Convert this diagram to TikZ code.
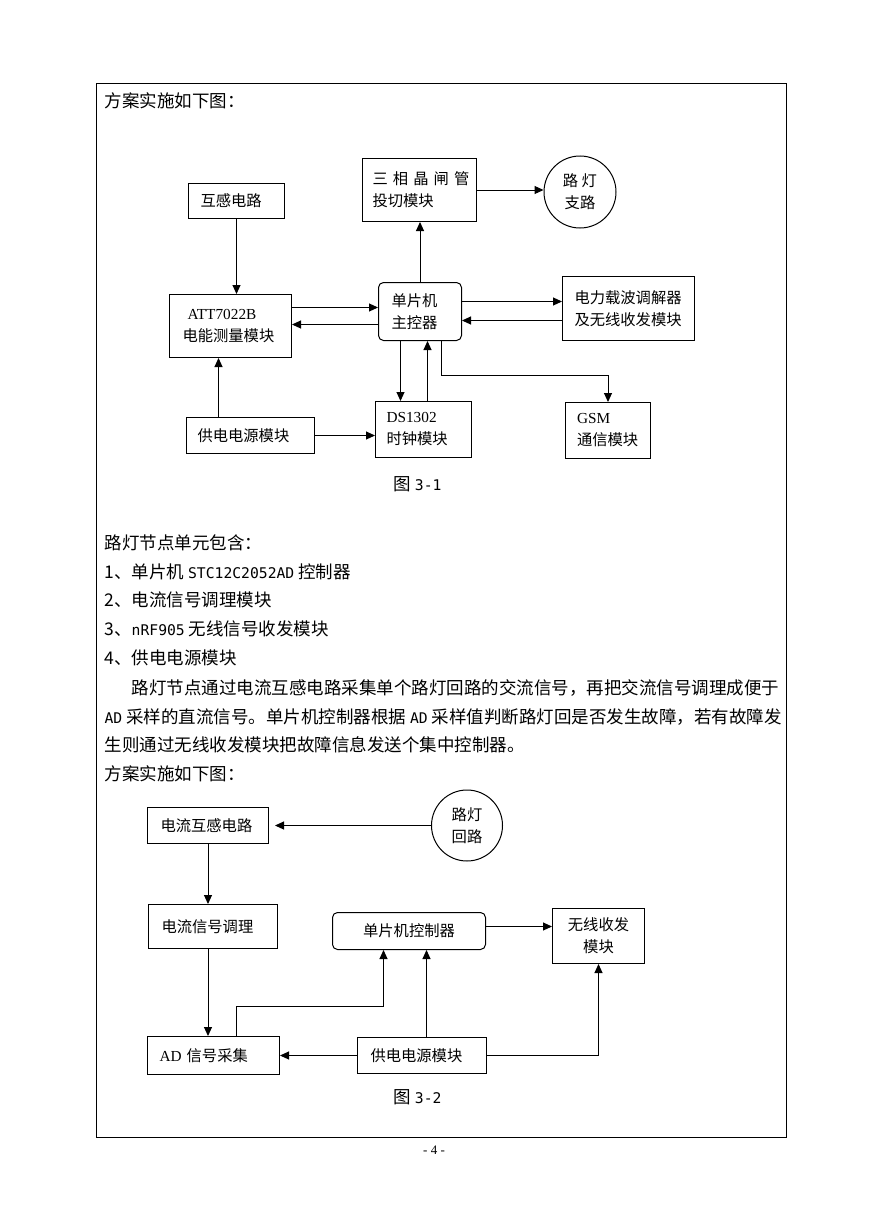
\documentclass[tikz,border=0pt]{standalone}
\usepackage{fontspec}
\setmainfont{Noto Sans CJK SC}
\newfontfamily\tms{Liberation Serif}
\newfontfamily\hw[Scale=0.84]{DejaVu Sans Mono}
\usetikzlibrary{arrows.meta,positioning}
\newcommand\dgfont{\fontsize{15.3}{22}\selectfont}
\newcommand\bdfont{\fontsize{17.5}{29}\selectfont}

\begin{document}
\begin{tikzpicture}[x=1pt, y=-1pt, line width=1pt, >={Triangle[length=9pt,width=8pt]},
    bb/.style={draw, align=left, inner ysep=0pt, anchor=north west, font=\dgfont},
    rr/.style={bb, rounded corners=5pt},
    cc/.style={draw, circle, inner sep=0pt, align=center, font=\dgfont},
    tt/.style={anchor=west, inner sep=0pt, font=\bdfont}]
            \fill[white] (0,0) rectangle (869,1228);
            \useasboundingbox (0,0) rectangle (869,1228);
            \draw (96,84) rectangle (786,1137);
            \node[tt] (p1) at (104,101) {方案实施如下图：};
            \node[bb, text width=72pt, inner xsep=12pt, minimum height=35pt] (hg) at (188,183) {互感电路};
            \node[bb, text width=96pt, inner xsep=13pt, minimum height=63pt] (att) at (169,294) {\hspace*{5pt}{\tms ATT7022B}\\电能测量模块};
            \node[bb, text width=94pt, inner xsep=10pt, minimum height=63pt] (sx) at (362,158) {三~相~晶~闸~管\\投切模块};
            \node[cc, minimum size=72pt] (ld) at (580,192) {路~灯\\支路};
            \node[rr, text width=57pt, inner xsep=13pt, minimum height=58pt] (mcu) at (378,282) {单片机\\主控器};
            \node[bb, text width=108pt, inner xsep=12pt, minimum height=64pt] (dl) at (562,276) {电力载波调解器\\及无线收发模块};
            \node[bb, text width=74pt, inner xsep=11pt, minimum height=56pt] (ds) at (375,401) {{\tms DS1302}\\时钟模块};
            \node[bb, text width=62pt, inner xsep=11.5pt, minimum height=56pt] (gsm) at (565,402) {{\tms GSM}\\通信模块};
            \node[bb, text width=106pt, inner xsep=11pt, minimum height=36pt] (gd) at (186,417) {供电电源模块};
            \node[tt] (c1) at (393,484) {图 {\hw 3-1}};
            \node[tt] (l0) at (104,543) {路灯节点单元包含：};
            \node[tt] (l1) at (104,572) {1、单片机 {\hw STC12C2052AD} 控制器};
            \node[tt] (l2) at (104,600) {2、电流信号调理模块};
            \node[tt] (l3) at (104,629) {3、{\hw nRF905} 无线信号收发模块};
            \node[tt] (l4) at (104,658) {4、供电电源模块};
            \node[tt] (q1) at (131,688) {路灯节点通过电流互感电路采集单个路灯回路的交流信号，再把交流信号调理成便于};
            \node[tt] (q2) at (104,717) {{\hw AD} 采样的直流信号。单片机控制器根据 {\hw AD} 采样值判断路灯回是否发生故障，若有故障发};
            \node[tt] (q3) at (104,745) {生则通过无线收发模块把故障信息发送个集中控制器。};
            \node[tt] (p2) at (104,774) {方案实施如下图：};
            \node[bb, text width=95pt, inner xsep=13pt, minimum height=36pt] (ct) at (147,807) {电流互感电路};
            \node[cc, minimum size=71pt] (lh) at (467,825.5) {路灯\\回路};
            \node[bb, text width=103pt, inner xsep=13pt, minimum height=44pt] (tj) at (148,904) {电流信号调理};
            \node[rr, align=center, minimum width=153pt, minimum height=37pt] (mcu2) at (332,912) {单片机控制器};
            \node[bb, align=center, minimum width=92pt, minimum height=55pt] (wx) at (552,908) {无线收发\\模块};
            \node[bb, text width=108pt, inner xsep=12pt, minimum height=38pt] (ad) at (147,1036) {{\tms AD} 信号采集};
            \node[bb, text width=103pt, inner xsep=13pt, minimum height=36pt] (gd2) at (357,1037) {供电电源模块};
            \node[tt] (c2) at (393,1097) {图 {\hw 3-2}};
            \node[inner sep=0pt, font=\tms\fontsize{13}{13}\selectfont] (pg) at (434,1150) {- 4 -};
            \draw[->] (hg.south) -- (hg.south |- att.north);
            \draw[->] ([yshift=18.5pt]att.east) -- ([yshift=4pt]mcu.west);
            \draw[->] ([yshift=-13pt]mcu.west) -- ([yshift=1.5pt]att.east);
            \draw[->] (mcu.north) -- (mcu.north |- sx.south);
            \draw[->] (sx.east) -- (sx.east -| ld.west);
            \draw[->] ([yshift=10pt]mcu.east) -- ([yshift=7pt]dl.west);
            \draw[->] ([yshift=-12pt]dl.west) -- ([yshift=-9pt]mcu.east);
            \draw[->] ([xshift=-19.5pt]mcu.south) -- ([xshift=-23pt]ds.north);
            \draw[->] ([xshift=4pt]ds.north) -- ([xshift=7.5pt]mcu.south);
            \draw[->] ([xshift=21.5pt]mcu.south) -- ++(0,34) -| (gsm.north);
            \draw[->] ([xshift=-32pt]gd.north) -- ([xshift=-12pt]att.south);
            \draw[->] (gd.east) -- (gd.east -| ds.west);
            \draw[->,shorten >=6pt] (lh.west) -- (lh.west -| ct.east);
            \draw[->] (ct.south) -- (ct.south |- tj.north);
            \draw[->] (ct.south |- tj.south) -- (ct.south |- ad.north);
            \draw[->] ([xshift=23pt]ad.north) -- ++(0,-30) -| ([xshift=-25.5pt]mcu2.south);
            \draw[->] ([xshift=4.5pt]gd2.north) -- ([xshift=17.5pt]mcu2.south);
            \draw[->] (gd2.west) -- (gd2.west -| ad.east);
            \draw[->] ([yshift=4.5pt]mcu2.east) -- ([yshift=9.5pt]wx.west);
            \draw[->] (gd2.east) -| (wx.south);
        \end{tikzpicture}
\end{document}
